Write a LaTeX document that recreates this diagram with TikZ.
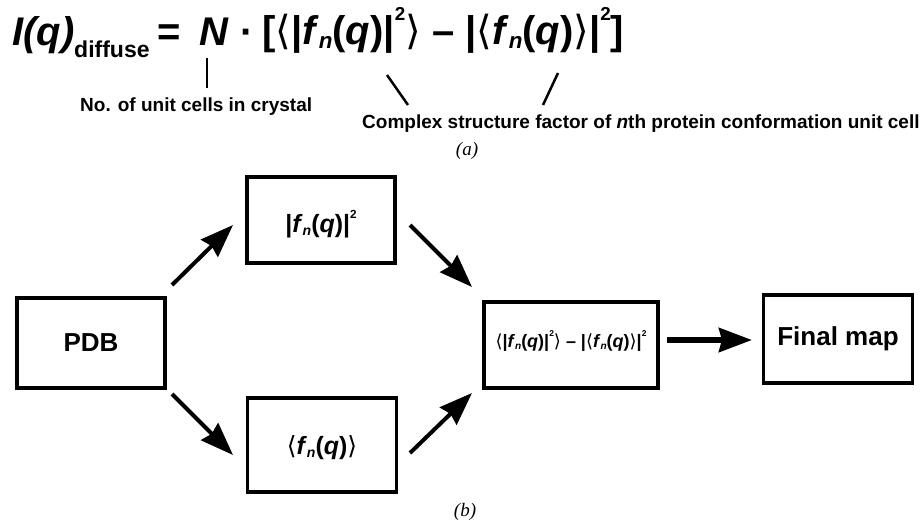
\documentclass[tikz,border=0pt]{standalone}
\usepackage{fontspec}
\setmainfont{Liberation Sans}
\newfontfamily\timesf{Liberation Serif}
\newfontfamily\djv{DejaVu Sans}
\usetikzlibrary{arrows.meta}
\makeatletter
\newcommand{\subsc}[1]{\raisebox{-0.12em}{\fontsize{\fpeval{0.56*\f@size}}{0}\selectfont #1}}
\newcommand{\supsc}[1]{\raisebox{0.58em}{\fontsize{\fpeval{0.47*\f@size}}{0}\selectfont #1}}
\makeatother
\newcommand{\la}{{\djv\mdseries\upshape ⟨}}
\newcommand{\ra}{{\djv\mdseries\upshape ⟩}}
\newcommand{\fnq}{\textit{f}\subsc{\textit{n}}(\textit{q})}
\begin{document}
\begin{tikzpicture}[x=1pt,y=-1pt,
  box/.style={draw, line width=3.8pt, inner sep=0pt, align=center},
  arr/.style={line width=4pt, -{Stealth[length=33pt,width=24pt,inset=3pt]}},
  tick/.style={line width=2.5pt},
  eqf/.style={anchor=base west, inner sep=0pt, font=\fontsize{40}{40}\selectfont\bfseries},
  lab/.style={inner sep=0pt, font=\bfseries\fontsize{19}{19}\selectfont}]
\useasboundingbox (0,0) rectangle (921,523);
% (a) equation
\node[eqf] (eqI) at (12,45) {\itshape I(q)};
\node[anchor=base west, inner sep=0pt] (eqd) at (74,57) {\fontsize{23}{23}\selectfont\bfseries diffuse};
\node[eqf] (eqeq) at (157,45) {=};
\node[eqf] (eqN) at (199,45) {\itshape N};
\node[eqf] (eqdot) at (240,45) {·};
\node[eqf] (eqr) at (262,44) {[\la|\fnq|\supsc{2}\ra{} – |\la\fnq\ra|\supsc{2}]};
\coordinate (t1a) at (207,58);
\coordinate (t1b) at (207,88);
\draw[tick] (t1a) -- (t1b);
\node[lab, anchor=base west] (ncell) at (80,111) {No. of unit cells in crystal};
\coordinate (t2a) at (387,75);
\coordinate (t2b) at (408,105);
\draw[tick] (t2a) -- (t2b);
\coordinate (t3a) at (558,73);
\coordinate (t3b) at (543,105);
\draw[tick] (t3a) -- (t3b);
\node[lab, anchor=base west] (csf) at (362,128) {Complex structure factor of \textit{n}th protein conformation unit cell};
\node[inner sep=0pt] (capa) at (467,151) {\timesf\itshape\fontsize{19}{19}\selectfont (a)};
% (b) flow
\node[box, minimum width=148pt, minimum height=90pt] (pdb) at (91,343) {\fontsize{26}{26}\selectfont\bfseries PDB};
\node[box, minimum width=148pt, minimum height=86pt] (sq) at (321,220) {};
\node[inner sep=0pt] (sqt) at (321,224) {\fontsize{25}{25}\selectfont\bfseries |\fnq|\supsc{2}};
\node[box, minimum width=149pt, minimum height=94pt] (avg) at (322,445) {};
\node[inner sep=0pt] (avgt) at (322,448) {\fontsize{25}{25}\selectfont\bfseries \la\fnq\ra};
\node[box, minimum width=174pt, minimum height=86pt] (mid) at (571,345) {};
\node[inner sep=0pt] (midt) at (571,341) {\fontsize{18}{18}\selectfont\bfseries \la|\fnq|\supsc{2}\ra{} – |\la\fnq\ra|\supsc{2}};
\node[box, minimum width=149pt, minimum height=88pt] (fin) at (838,339) {\fontsize{26}{26}\selectfont\bfseries Final map};
\coordinate (a1s) at (172,285); \coordinate (a1e) at (233,225);
\coordinate (a2s) at (172,394); \coordinate (a2e) at (233,455);
\coordinate (a3s) at (410,225); \coordinate (a3e) at (472,287);
\coordinate (a4s) at (410,453); \coordinate (a4e) at (472,393);
\coordinate (a5s) at (667,340); \coordinate (a5e) at (752,340);
\draw[arr] (a1s) -- (a1e);
\draw[arr] (a2s) -- (a2e);
\draw[arr] (a3s) -- (a3e);
\draw[arr] (a4s) -- (a4e);
\draw[arr, line width=5.5pt] (a5s) -- (a5e);
\node[inner sep=0pt] (capb) at (465,512) {\timesf\itshape\fontsize{19}{19}\selectfont (b)};
\end{tikzpicture}
\end{document}
